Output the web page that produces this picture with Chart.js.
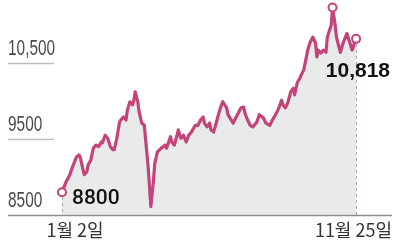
<!DOCTYPE html>
<html>
<head>
<meta charset="utf-8">
<script src="https://cdn.jsdelivr.net/npm/chart.js@4"></script>
<style>
  html, body { margin: 0; padding: 0; background: #fff; }
  #wrap { width: 400px; height: 250px; position: relative; }
</style>
</head>
<body>
<div id="wrap"><canvas id="stockChart"></canvas></div>
<script>
// trading day index since Jan 2
const days = [0, 3, 6, 8, 11, 13, 14, 15, 17, 19, 20, 22, 24, 26, 28, 30, 31, 33, 35, 37,
    39, 40, 42, 44, 45, 47, 49, 50, 52, 54, 55, 56, 58, 59, 61, 63, 66, 67, 68, 70,
    71, 73, 76, 79, 80, 83, 84, 86, 88, 89, 91, 93, 95, 97, 99, 102, 104, 106, 108, 109,
    111, 113, 114, 116, 118, 120, 122, 123, 126, 127, 131, 133, 137, 139, 140, 142, 144, 146, 149, 151,
    154, 156, 159, 161, 164, 166, 168, 169, 171, 173, 175, 177, 178, 180, 182, 183, 185, 187, 188, 190,
    192, 194, 195, 196, 198, 200, 202, 203, 206, 207, 209, 210, 213, 215, 218, 220, 222, 223, 224, 225];
const prices = [8800, 8930, 9030, 9130, 9260, 9290, 9260, 9180, 9030, 9070, 9160, 9220, 9380, 9420, 9400, 9460, 9450, 9550, 9510, 9400,
    9360, 9360, 9510, 9720, 9750, 9790, 9750, 9880, 9990, 9950, 10010, 10120, 9990, 9860, 9710, 9680, 9120, 8860, 8610, 8960,
    9180, 9330, 9380, 9420, 9380, 9530, 9460, 9420, 9550, 9620, 9510, 9550, 9460, 9550, 9590, 9680, 9680, 9750, 9790, 9710,
    9660, 9710, 9620, 9590, 9710, 9840, 9950, 9990, 9910, 9820, 9710, 9780, 9910, 9920, 9840, 9750, 9680, 9660, 9720, 9820,
    9780, 9710, 9680, 9750, 9840, 9910, 10010, 9950, 9910, 9990, 10120, 10170, 10080, 10240, 10300, 10340, 10410, 10580, 10670, 10780,
    10840, 10760, 10580, 10670, 10630, 10670, 10640, 10840, 11000, 11230, 11000, 10840, 10640, 10760, 10890, 10780, 10670, 10710, 10800, 10818];

const yTicks = [8500, 9500, 10500];
const yTickLabels = ['8500', '9500', '10,500'];
const startLabel = '1월 2일';
const endLabel = '11월 25일';
const startValueLabel = '8800';
const endValueLabel = '10,818';

const lineColor = '#c4437a';
const peakIndex = prices.indexOf(Math.max(...prices));
const markedPoints = [0, peakIndex, prices.length - 1];

function narrowText(ctx, text, x, y, sx) {
    ctx.save();
    ctx.translate(x, y);
    ctx.scale(sx, 1);
    ctx.fillText(text, 0, 0);
    ctx.restore();
}

const annotations = {
    id: 'annotations',
    beforeDatasetsDraw(chart) {
        const { ctx, chartArea, scales } = chart;
        const y = scales.y;
        ctx.save();
        // short grid marks under the tick labels
        ctx.strokeStyle = '#bdbdbd';
        ctx.lineWidth = 1.5;
        yTicks.forEach((v) => {
            if (v === yTicks[0]) return;
            const py = Math.round(y.getPixelForValue(v)) + 0.5;
            ctx.beginPath();
            ctx.moveTo(chartArea.left, py);
            ctx.lineTo(chartArea.left + 46, py);
            ctx.stroke();
        });
        ctx.restore();
    },
    afterDatasetsDraw(chart) {
        const { ctx, chartArea, scales } = chart;
        const x = scales.x;
        const y = scales.y;
        const base = Math.round(y.getPixelForValue(yTicks[0])) + 0.5;
        ctx.save();

        // dashed drop lines at the first and last points
        ctx.strokeStyle = '#a8a8a8';
        ctx.lineWidth = 1;
        ctx.setLineDash([3, 3]);
        [0, prices.length - 1].forEach((i) => {
            const px = Math.round(x.getPixelForValue(days[i])) + 0.5;
            const py = y.getPixelForValue(prices[i]) + 5;
            ctx.beginPath();
            ctx.moveTo(px, py);
            ctx.lineTo(px, base);
            ctx.stroke();
        });
        ctx.setLineDash([]);

        // baseline
        ctx.strokeStyle = '#8e8e8e';
        ctx.lineWidth = 1.5;
        ctx.beginPath();
        ctx.moveTo(chartArea.left, base);
        ctx.lineTo(chartArea.right, base);
        ctx.stroke();

        // y tick labels, sitting above their grid marks
        ctx.fillStyle = '#4a4a4a';
        ctx.font = '22px "Liberation Sans"';
        ctx.textAlign = 'left';
        ctx.textBaseline = 'alphabetic';
        yTicks.forEach((v, i) => {
            const py = y.getPixelForValue(v) - 8;
            narrowText(ctx, yTickLabels[i], chartArea.left, py, 0.7);
        });

        // value labels
        ctx.fillStyle = '#111';
        ctx.font = '500 21px Roboto';
        ctx.fillText(startValueLabel, x.getPixelForValue(days[0]) + 10, y.getPixelForValue(prices[0]) + 12);
        ctx.font = 'bold 21px "Liberation Sans"';
        ctx.textAlign = 'right';
        ctx.fillText(endValueLabel, chartArea.right - 2, 77);

        // x labels
        ctx.fillStyle = '#333';
        ctx.font = '18px "Noto Sans CJK KR"';
        ctx.textAlign = 'center';
        ctx.fillText(startLabel, x.getPixelForValue(days[0]) + 13, 237);
        ctx.textAlign = 'right';
        ctx.fillText(endLabel, chartArea.right, 237);

        ctx.restore();
    },
};

new Chart(document.getElementById('stockChart').getContext('2d'), {
    type: 'line',
    data: {
        datasets: [
            {
                data: days.map((d, i) => ({ x: d, y: prices[i] })),
                borderColor: lineColor,
                borderWidth: 3.2,
                borderJoinStyle: 'round',
                backgroundColor: '#e9eaea',
                fill: 'start',
                tension: 0,
                pointRadius: (c) => (markedPoints.includes(c.dataIndex) ? 4 : 0),
                pointBackgroundColor: '#fff',
                pointBorderColor: lineColor,
                pointBorderWidth: 2,
                clip: false,
            },
        ],
    },
    options: {
        responsive: true,
        maintainAspectRatio: false,
        animation: false,
        layout: { padding: { left: 8, right: 8, top: 7, bottom: 35 } },
        plugins: { legend: { display: false }, tooltip: { enabled: false } },
        scales: {
            x: { type: 'linear', min: -41.3, max: 252.5, display: false },
            y: { min: 8500, max: 11237, display: false },
        },
    },
    plugins: [annotations],
});
</script>
</body>
</html>
